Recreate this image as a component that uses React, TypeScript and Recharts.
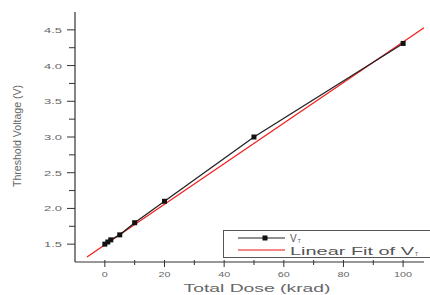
import React from "react";
import { LineChart, Line, XAxis, YAxis } from "recharts";

const doses = [0, 1, 2, 5, 10, 20, 50, 100];
const vtValues = [1.5, 1.53, 1.56, 1.63, 1.8, 2.1, 3.0, 4.31];
const fitDoses = [-6, 107];
const fitValues = [1.32, 4.53];
const xTicks = [0, 10, 20, 30, 40, 50, 60, 70, 80, 90, 100];
const yTicks = [1.5, 1.75, 2.0, 2.25, 2.5, 2.75, 3.0, 3.25, 3.5, 3.75, 4.0, 4.25, 4.5];

const vtData = doses.map((d, i) => ({ x: d, vt: vtValues[i] }));
const fitData = fitDoses.map((d, i) => ({ x: d, fit: fitValues[i] }));

const FONT = "'Liberation Sans', Arial, sans-serif";
const AXIS = "#333";
const TXT = "#666";

const XTick = (props: any) => {
  const { x, y, payload } = props;
  const v = payload.value;
  const major = v % 20 === 0;
  const label = String(v);
  return (
    <g>
      <line x1={x} x2={x} y1={y - 2} y2={y + (major ? 5 : 3)} stroke={AXIS} strokeWidth={1} />
      {major && (
        <text x={x} y={y + 15} textAnchor="middle" fontSize={8} fill={TXT} fontFamily={FONT}
          textLength={label.length * 6} lengthAdjust="spacingAndGlyphs">{label}</text>
      )}
    </g>
  );
};

const YTick = (props: any) => {
  const { x, y, payload } = props;
  const v = payload.value;
  const major = Math.abs(v * 2 - Math.round(v * 2)) < 1e-6;
  const label = v.toFixed(1);
  return (
    <g>
      <line x1={x - (major ? 8 : 6)} x2={x} y1={y} y2={y} stroke={AXIS} strokeWidth={1} />
      {major && (
        <text x={x - 13} y={y + 3} textAnchor="end" fontSize={8} fill={TXT} fontFamily={FONT}
          textLength={18} lengthAdjust="spacingAndGlyphs">{label}</text>
      )}
    </g>
  );
};

const SquareDot = (props: any) => {
  const { cx, cy } = props;
  if (cx == null || cy == null) return null;
  return <rect x={cx - 2.5} y={cy - 2.5} width={5} height={5} fill="#111" />;
};

const LegendBox = () => (
  <svg width={207} height={28} style={{ display: "block" }}>
    <rect x={0.5} y={0.5} width={215} height={27} fill="#fff" stroke="#555" strokeWidth={1} />
    <line x1={15} x2={62} y1={8} y2={8} stroke="#222" strokeWidth={1.2} />
    <rect x={39.5} y={5.5} width={5} height={5} fill="#111" />
    <text x={67} y={11.5} fontSize={10} fill="#555" fontFamily={FONT}>
      V<tspan fontSize={5} dx={1} dy={1.5}>T</tspan>
    </text>
    <line x1={15} x2={62} y1={20} y2={20} stroke="#f06060" strokeWidth={1.5} />
    <text x={67} y={24.5} fontSize={10} fill="#555" fontFamily={FONT}>
      <tspan textLength={124} lengthAdjust="spacingAndGlyphs">Linear Fit of V</tspan>
      <tspan fontSize={5} dx={1} dy={1.5}>T</tspan>
    </text>
  </svg>
);

export default function App() {
  return (
    <div style={{ position: "absolute", left: 0, top: 0, width: 430, height: 295, background: "#fff" }}>
      <LineChart width={430} height={295} margin={{ top: 12, right: 6, bottom: 0, left: 0 }}>
        <XAxis
          type="number"
          dataKey="x"
          domain={[-10, 107]}
          ticks={xTicks}
          allowDataOverflow
          height={33}
          tickSize={0}
          tickMargin={0}
          tickLine={false}
          stroke={AXIS}
          strokeWidth={1.2}
          tick={<XTick />}
          interval={0}
          label={{
            content: () => (
              <text x={257} y={292} textAnchor="middle" fontSize={10} fill={TXT} fontFamily={FONT}
                textLength={147} lengthAdjust="spacingAndGlyphs">Total Dose (krad)</text>
            ),
          }}
        />
        <YAxis
          type="number"
          domain={[1.25, 4.75]}
          ticks={yTicks}
          allowDataOverflow
          width={75}
          tickSize={0}
          tickMargin={0}
          tickLine={false}
          stroke={AXIS}
          strokeWidth={1.2}
          tick={<YTick />}
          interval={0}
          label={{
            content: () => (
              <text x={0} y={0} transform="translate(21,136) rotate(-90)" textAnchor="middle" fontSize={10}
                fill={TXT} fontFamily={FONT} textLength={102} lengthAdjust="spacingAndGlyphs">Threshold Voltage (V)</text>
            ),
          }}
        />
        <Line data={fitData} dataKey="fit" stroke="#f02020" strokeWidth={1.3} dot={false} isAnimationActive={false} />
        <Line
          data={vtData}
          dataKey="vt"
          stroke="#222"
          strokeWidth={1.3}
          dot={<SquareDot />}
          isAnimationActive={false}
        />
      </LineChart>
      <div style={{ position: "absolute", left: 223, top: 230, width: 207, height: 28 }}>
        <LegendBox />
      </div>
    </div>
  );
}
